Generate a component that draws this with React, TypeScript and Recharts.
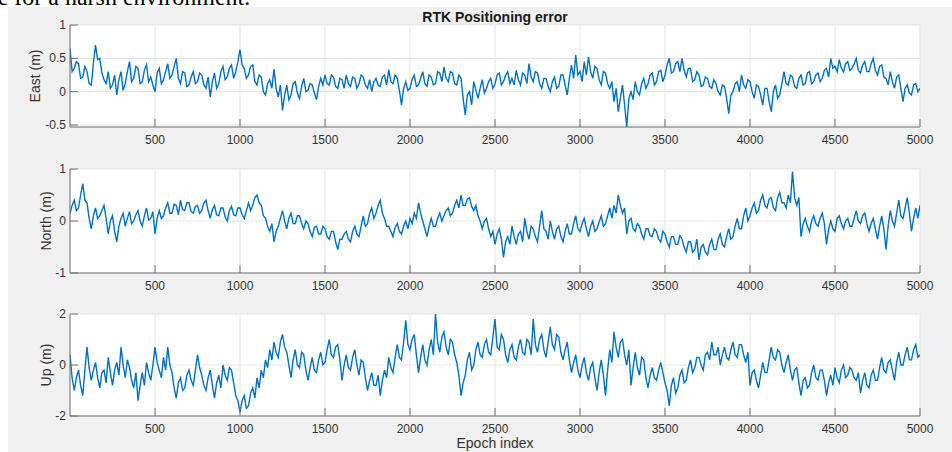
import { CartesianGrid, Line, LineChart, XAxis, YAxis } from 'recharts'

const STEP = 12.5

const EAST = [
  0.65, 0.3, 0.35, 0.45, 0.42, 0.2, 0.22, 0.38, 0.3, 0.12, 0.1, 0.42, 0.7, 0.48, 0.5, 0.28,
  0.18, 0.12, 0.3, 0.05, 0.1, 0.25, -0.05, 0.18, 0.3, 0.02, 0.12, 0.3, 0.45, 0.15, 0.2, 0.38,
  0.35, 0.12, 0.15, 0.32, 0.4, 0.15, 0.22, 0.1, 0.0, 0.28, 0.35, 0.12, 0.18, 0.3, 0.42, 0.2,
  0.25, 0.38, 0.5, 0.2, 0.12, 0.3, 0.28, 0.08, 0.1, 0.22, 0.3, 0.12, 0.15, 0.28, 0.25, 0.1,
  0.05, 0.22, -0.08, 0.15, 0.28, 0.05, 0.12, 0.3, 0.38, 0.18, 0.22, 0.35, 0.4, 0.2, 0.3, 0.45,
  0.63, 0.4, 0.35, 0.2, 0.25, 0.38, 0.4, 0.15, 0.1, 0.25, 0.22, 0.0, -0.05, 0.12, 0.18, 0.05,
  0.34, 0.05, -0.08, 0.1, -0.28, -0.05, 0.1, -0.12, -0.05, 0.12, 0.15, -0.02, -0.1, 0.08, 0.2, 0.0,
  0.02, 0.12, 0.1, -0.02, -0.12, 0.08, 0.2, 0.1, 0.25, 0.12, 0.1, 0.25, 0.22, 0.08, 0.05, 0.2,
  0.18, 0.05, 0.25, 0.12, 0.08, 0.22, 0.2, 0.05, 0.12, 0.25, 0.22, 0.1, 0.05, 0.18, 0.0, 0.15,
  0.2, 0.1, 0.08, 0.22, 0.25, 0.1, 0.33, 0.15, 0.12, 0.25, 0.2, 0.02, -0.2, 0.05, 0.15, 0.02,
  0.05, 0.18, 0.25, 0.08, 0.1, 0.2, 0.3, 0.12, 0.08, 0.25, 0.22, 0.1, 0.12, 0.3, 0.28, 0.15,
  0.37, 0.2, 0.15, 0.3, 0.28, 0.12, 0.1, 0.25, 0.2, -0.1, -0.35, -0.05, 0.0, -0.2, 0.15, 0.02,
  -0.1, 0.05, 0.18, -0.02, 0.05, 0.15, 0.2, 0.05, 0.12, 0.25, 0.28, 0.1, 0.15, 0.25, 0.3, 0.12,
  0.2, 0.1, 0.32, 0.18, 0.1, 0.28, 0.25, 0.12, 0.42, 0.22, 0.15, 0.3, 0.28, 0.12, 0.05, 0.2,
  0.2, 0.08, 0.0, 0.15, 0.22, 0.05, 0.08, 0.25, 0.25, 0.1, -0.05, 0.2, 0.4, 0.2, 0.55, 0.25,
  0.3, 0.15, 0.45, 0.25, 0.52, 0.3, 0.2, 0.38, 0.35, 0.18, 0.1, 0.3, 0.28, 0.12, 0.05, 0.15,
  -0.15, 0.05, -0.3, -0.1, 0.1, -0.2, -0.53, -0.1, 0.0, -0.12, 0.15, 0.0, -0.05, 0.12, 0.2, 0.05,
  0.12, 0.25, 0.28, 0.1, 0.15, 0.3, 0.32, 0.15, 0.25, 0.4, 0.5, 0.28, 0.3, 0.42, 0.45, 0.3,
  0.5, 0.32, 0.22, 0.35, 0.35, 0.15, 0.18, 0.3, 0.25, 0.08, 0.1, 0.22, 0.2, 0.08, 0.05, 0.18,
  0.12, 0.0, -0.05, 0.1, 0.08, -0.1, -0.33, -0.05, 0.0, 0.12, 0.15, 0.0, 0.25, 0.1, 0.05, 0.18,
  0.15, 0.0, -0.1, 0.1, 0.08, -0.05, -0.2, 0.05, 0.05, -0.15, -0.3, 0.0, 0.1, -0.1, -0.05, 0.12,
  0.3, 0.12, 0.1, 0.25, 0.22, 0.08, 0.05, 0.2, 0.25, 0.1, 0.12, 0.28, 0.3, 0.12, 0.15, 0.25,
  0.28, 0.15, 0.2, 0.32, 0.35, 0.22, 0.5, 0.35, 0.38, 0.3, 0.48, 0.35, 0.3, 0.42, 0.45, 0.32,
  0.35, 0.42, 0.5, 0.32, 0.28, 0.4, 0.45, 0.3, 0.3, 0.42, 0.5, 0.32, 0.25, 0.38, 0.4, 0.22,
  0.2, 0.1, 0.3, 0.15, 0.05, 0.22, 0.25, 0.05, -0.15, 0.05, 0.1, -0.02, -0.05, 0.1, 0.12, 0.0,
  0.05,
]

const NORTH = [
  0.15, 0.3, 0.4, 0.2, 0.25, 0.5, 0.72, 0.4, 0.35, 0.05, -0.15, 0.1, 0.25, 0.05, 0.1, 0.2,
  0.3, 0.05, -0.25, 0.0, 0.1, -0.2, -0.4, -0.1, 0.05, 0.15, -0.1, 0.05, 0.18, -0.05, 0.0, 0.12,
  0.2, 0.0, -0.1, 0.1, 0.25, 0.02, 0.05, 0.18, -0.25, 0.05, 0.2, 0.05, 0.1, 0.25, 0.35, 0.15,
  0.15, 0.32, 0.3, 0.12, 0.4, 0.22, 0.2, 0.35, 0.35, 0.18, 0.15, 0.28, 0.3, 0.15, 0.2, 0.35,
  0.4, 0.2, 0.05, 0.22, 0.3, 0.12, 0.1, 0.25, 0.25, 0.08, 0.0, 0.2, 0.28, 0.12, 0.1, 0.25,
  0.25, 0.12, 0.05, 0.2, 0.35, 0.2, 0.3, 0.45, 0.5, 0.35, 0.3, 0.1, 0.05, -0.1, -0.2, -0.05,
  -0.4, -0.2, -0.1, 0.05, 0.2, 0.0, -0.15, 0.05, 0.15, -0.05, -0.05, 0.1, 0.1, -0.05, -0.15, 0.0,
  -0.05, -0.2, -0.3, -0.12, -0.1, -0.25, -0.25, -0.1, -0.15, -0.3, -0.35, -0.2, -0.2, -0.4, -0.55, -0.35,
  -0.35, -0.25, -0.2, -0.35, -0.4, -0.2, -0.1, -0.25, -0.3, -0.1, 0.1, -0.1, -0.05, 0.15, 0.25, 0.05,
  0.15, 0.3, 0.4, 0.15, 0.05, -0.1, -0.1, -0.2, -0.3, -0.12, -0.05, -0.2, -0.25, -0.1, 0.0, -0.15,
  0.05, -0.05, 0.15, 0.05, 0.35, 0.15, 0.0, -0.15, -0.3, -0.1, 0.05, -0.1, -0.1, 0.05, 0.15, 0.0,
  0.1, 0.2, 0.25, 0.1, 0.15, 0.3, 0.4, 0.25, 0.5, 0.3, 0.3, 0.42, 0.45, 0.28, 0.2, 0.3,
  0.1, 0.0, -0.15, 0.0, 0.05, -0.15, -0.3, -0.2, -0.45, -0.25, -0.15, -0.35, -0.7, -0.4, -0.3, -0.45,
  -0.1, -0.3, -0.45, -0.25, -0.2, -0.4, 0.05, -0.2, -0.35, -0.1, -0.15, -0.3, -0.4, -0.1, 0.2, -0.15,
  -0.2, -0.35, 0.0, -0.2, -0.35, -0.15, -0.1, -0.3, -0.4, -0.2, -0.05, -0.25, -0.25, -0.05, 0.1, -0.15,
  -0.2, -0.05, 0.05, -0.15, -0.3, -0.1, 0.0, -0.2, -0.15, -0.02, 0.1, -0.1, -0.05, 0.1, 0.25, 0.05,
  0.3, 0.15, 0.5, 0.3, 0.15, 0.25, -0.25, 0.0, 0.05, -0.15, -0.2, -0.05, -0.1, -0.25, -0.35, -0.15,
  -0.15, -0.28, -0.3, -0.15, -0.2, -0.35, -0.4, -0.2, -0.25, -0.4, -0.5, -0.3, -0.3, -0.45, -0.45, -0.28,
  -0.35, -0.5, -0.6, -0.4, -0.4, -0.6, -0.55, -0.35, -0.75, -0.5, -0.45, -0.6, -0.65, -0.45, -0.35, -0.55,
  -0.55, -0.35, -0.25, -0.45, -0.5, -0.3, -0.15, -0.35, -0.3, -0.1, 0.05, -0.15, -0.15, 0.1, 0.25, 0.0,
  0.1, 0.25, 0.35, 0.15, 0.2, 0.4, 0.5, 0.3, 0.25, 0.42, 0.45, 0.25, 0.2, 0.45, 0.55, 0.35,
  0.35, 0.25, 0.5, 0.35, 0.95, 0.45, 0.3, 0.45, -0.3, -0.05, 0.05, -0.1, -0.2, 0.0, 0.1, -0.05,
  -0.1, 0.05, 0.15, -0.05, -0.45, -0.15, 0.0, -0.15, -0.2, 0.05, 0.1, -0.05, -0.15, 0.0, 0.05, -0.1,
  -0.1, 0.05, 0.2, 0.0, -0.05, 0.1, 0.15, -0.05, -0.2, -0.05, 0.05, -0.15, -0.35, -0.1, 0.1, -0.15,
  -0.55, -0.1, 0.2, 0.0, -0.1, 0.15, 0.4, 0.1, 0.05, 0.25, 0.45, 0.15, -0.2, 0.05, 0.25, 0.05,
  0.3,
]

const UP = [
  0.4, -0.5, -1.0, -0.5, -0.2, -0.8, -1.2, -0.2, 0.7, -0.1, -0.6, -0.2, 0.1, -0.5, -0.9, -0.3,
  -0.2, -0.7, 0.3, -0.3, -0.8, -0.2, 0.1, -0.4, 0.7, 0.0, -0.5, 0.2, -0.1, -0.6, -0.9, -0.3,
  -1.4, -0.8, -0.3, -0.8, 0.1, -0.3, -0.6, 0.0, 0.7, 0.1, -0.2, -0.5, 0.3, -0.2, 0.7, 0.0,
  -0.3, -0.9, -1.3, -0.7, -0.5, -1.0, -0.9, -0.4, -0.2, -0.6, -0.8, -0.2, 0.4, -0.1, -0.4, -0.8,
  -1.0, -0.5, -0.2, -0.8, -1.3, -0.7, -0.4, -0.9, 0.0, -0.4, -0.6, -0.1, -0.2, -0.7, -1.2, -1.4,
  -1.85, -1.4, -1.2, -1.7, -1.6, -1.1, -0.9, -1.3, -0.5, -0.9, -0.2, -0.5, 0.2, -0.1, 0.6, 0.2,
  0.9, 0.5, 0.3, 0.9, 1.2, 0.7, 0.5, 0.0, -0.5, 0.2, 0.6, 0.0, -0.1, 0.5, 0.4, -0.2,
  -0.6, -0.1, 0.3, -0.2, -0.3, 0.2, 0.5, 0.0, 0.1, 0.6, 1.0, 0.4, 0.3, 0.7, 0.8, 0.2,
  -0.6, 0.0, 0.4, -0.1, -0.2, 0.3, 0.6, 0.0, -0.4, 0.2, 0.1, -0.5, -1.0, -0.6, -0.3, -0.8,
  -0.8, -0.4, -1.2, -0.6, -0.2, -0.5, 0.3, -0.1, -0.3, 0.3, 0.8, 0.3, 0.2, 0.9, 1.75, 0.8,
  0.6, 1.0, 1.2, 0.4, -0.3, 0.3, 0.8, 0.2, 0.0, 0.6, 1.0, 0.4, 2.0, 0.9, 0.5, 1.1,
  1.3, 0.7, 0.4, 1.0, 0.9, 0.4, 0.1, -0.4, -1.2, -0.7, -0.4, 0.2, 0.5, -0.2, 0.0, 0.6,
  0.9, 0.4, 0.3, 0.8, 1.0, 0.5, 0.4, 1.1, 1.8, 0.7, 0.6, 1.2, 1.0, 0.4, 0.1, 0.6,
  0.8, 0.3, 0.2, 0.7, 1.0, 0.5, 0.4, 1.0, 0.9, 0.4, 1.8, 0.8, 0.5, 1.0, 1.2, 0.6,
  0.3, 0.9, 1.5, 0.8, 0.6, 1.2, 1.1, 0.5, 0.2, 0.6, 0.9, 0.2, -0.3, 0.1, 0.4, -0.2,
  -0.5, 0.0, 0.3, -0.3, -0.6, -0.1, 0.1, -0.5, -1.0, -0.3, 0.2, -0.4, -1.2, -0.2, 0.6, 0.1,
  1.3, 0.7, 0.3, 0.9, 1.0, 0.4, 0.0, 0.6, -0.8, -0.1, 0.5, -0.1, -0.4, 0.3, 0.2, -0.5,
  -0.9, -0.4, -0.1, -0.5, -0.6, -0.2, 0.1, -0.3, -0.7, -1.0, -1.6, -0.8, -0.5, -1.1, -0.9, -0.4,
  -0.2, -0.7, -0.6, -0.1, 0.2, -0.3, -0.1, 0.3, 0.3, 0.0, -0.2, 0.4, 0.5, 0.2, 0.9, 0.4,
  0.4, 0.7, 0.0, 0.4, 0.7, 0.3, 0.2, 0.6, 0.9, 0.4, 0.3, 0.8, 0.8, 0.4, 0.1, 0.5,
  -0.8, -0.3, -0.2, -0.6, -0.9, -0.4, 0.1, -0.3, -0.3, 0.2, 0.7, 0.3, 0.2, 0.6, 0.5, 0.0,
  -0.3, 0.1, 0.4, -0.2, -0.6, -0.2, -0.1, -0.7, -1.2, -0.6, -0.5, -0.9, -0.8, -0.3, 0.0, -0.5,
  -0.6, -0.2, -0.2, -0.6, -1.2, -0.7, -0.4, -0.8, -0.1, -0.5, -0.7, -0.2, 0.0, -0.5, -0.4, -0.1,
  -0.2, -0.5, -0.6, -0.3, -1.1, -0.6, -0.3, -0.8, -0.9, -0.4, -0.2, -0.6, -0.6, -0.1, 0.3, -0.2,
  -0.3, 0.1, 0.2, -0.2, -0.6, 0.1, 0.5, 0.0, 0.0, 0.4, 0.7, 0.2, 0.2, 0.6, 0.8, 0.3,
  0.4,
]

const EPOCHS = EAST.map((_, i) => i * STEP)

const X_TICKS = [500, 1000, 1500, 2000, 2500, 3000, 3500, 4000, 4500, 5000]
const EAST_TICKS = [-0.5, 0, 0.5, 1]
const NORTH_TICKS = [-1, 0, 1]
const UP_TICKS = [-2, 0, 2]

const TITLE = 'RTK Positioning error'
const X_LABEL = 'Epoch index'

const FONT = '"Liberation Sans", Arial, Helvetica, sans-serif'
const AXIS = '#707070'
const TEXT = '#333333'
const BLUE = '#0072BD'
const TICK_LEN = 8

function XTick(props: any) {
  const { x, y, payload } = props
  return (
    <g>
      <line x1={x} x2={x} y1={y} y2={y - TICK_LEN} stroke={AXIS} />
      <text x={x} y={y + 17} textAnchor="middle" fontSize={12} fontFamily={FONT} fill={TEXT}>
        {payload.value}
      </text>
    </g>
  )
}

function YTick(props: any) {
  const { x, y, payload } = props
  return (
    <g>
      <line x1={x} x2={x + TICK_LEN} y1={y} y2={y} stroke={AXIS} />
      <text x={x - 4} y={y + 4} textAnchor="end" fontSize={12} fontFamily={FONT} fill={TEXT}>
        {payload.value}
      </text>
    </g>
  )
}

type PanelProps = {
  values: number[]
  domain: [number, number]
  ticks: number[]
  top: number
  plotH: number
}

function Panel({ values, domain, ticks, top, plotH }: PanelProps) {
  const data = EPOCHS.map((epoch, i) => ({ epoch, value: values[i] }))
  const mt = 10
  const xh = 24
  return (
    <div style={{ position: 'absolute', left: 0, top: top - mt }}>
      <LineChart
        width={952}
        height={plotH + mt + xh}
        data={data}
        margin={{ top: mt, right: 32, bottom: 0, left: 0 }}
      >
        <CartesianGrid stroke="#e4e4e4" fill="#ffffff" fillOpacity={1} />
        <XAxis
          dataKey="epoch"
          type="number"
          domain={[0, 5000]}
          ticks={X_TICKS}
          interval={0}
          height={xh}
          tickSize={0}
          tickMargin={0}
          tickLine={false}
          axisLine={{ stroke: AXIS }}
          tick={(p: any) => <XTick {...p} />}
          allowDataOverflow
        />
        <YAxis
          type="number"
          domain={domain}
          ticks={ticks}
          interval={0}
          width={70}
          tickSize={0}
          tickMargin={0}
          tickLine={false}
          axisLine={{ stroke: AXIS }}
          tick={(p: any) => <YTick {...p} />}
          allowDataOverflow
        />
        <Line
          type="linear"
          dataKey="value"
          stroke={BLUE}
          strokeWidth={1.4}
          dot={false}
          isAnimationActive={false}
        />
      </LineChart>
    </div>
  )
}

export default function App() {
  return (
    <div style={{ position: 'fixed', left: 0, top: 0, width: 952, height: 452, background: '#ffffff', overflow: 'hidden' }}>
      <div style={{ position: 'absolute', left: 8, top: 7, right: 0, bottom: 0, background: '#f0f0f0' }} />
      <Panel values={EAST} domain={[-0.53, 1]} ticks={EAST_TICKS} top={25} plotH={102} />
      <Panel values={NORTH} domain={[-1, 1]} ticks={NORTH_TICKS} top={169} plotH={104} />
      <Panel values={UP} domain={[-2, 2]} ticks={UP_TICKS} top={314} plotH={102} />
      <svg width={952} height={452} style={{ position: 'absolute', left: 0, top: 0, pointerEvents: 'none' }}>
        <text x={-13} y={5} fontSize={24} fontFamily='"Liberation Serif", "Times New Roman", serif' fill="#000">
          ce for a harsh environment.
        </text>
        <text x={495} y={21.5} textAnchor="middle" fontSize={14} fontWeight="bold" fontFamily={FONT} fill="#1a1a1a">
          {TITLE}
        </text>
        <text transform="translate(40,76) rotate(-90)" textAnchor="middle" fontSize={14} fontFamily={FONT} fill={TEXT}>
          East (m)
        </text>
        <text transform="translate(51,221) rotate(-90)" textAnchor="middle" fontSize={14} fontFamily={FONT} fill={TEXT}>
          North (m)
        </text>
        <text transform="translate(51,365) rotate(-90)" textAnchor="middle" fontSize={14} fontFamily={FONT} fill={TEXT}>
          Up (m)
        </text>
        <text x={495} y={448} textAnchor="middle" fontSize={14} fontFamily={FONT} fill={TEXT}>
          {X_LABEL}
        </text>
      </svg>
    </div>
  )
}
